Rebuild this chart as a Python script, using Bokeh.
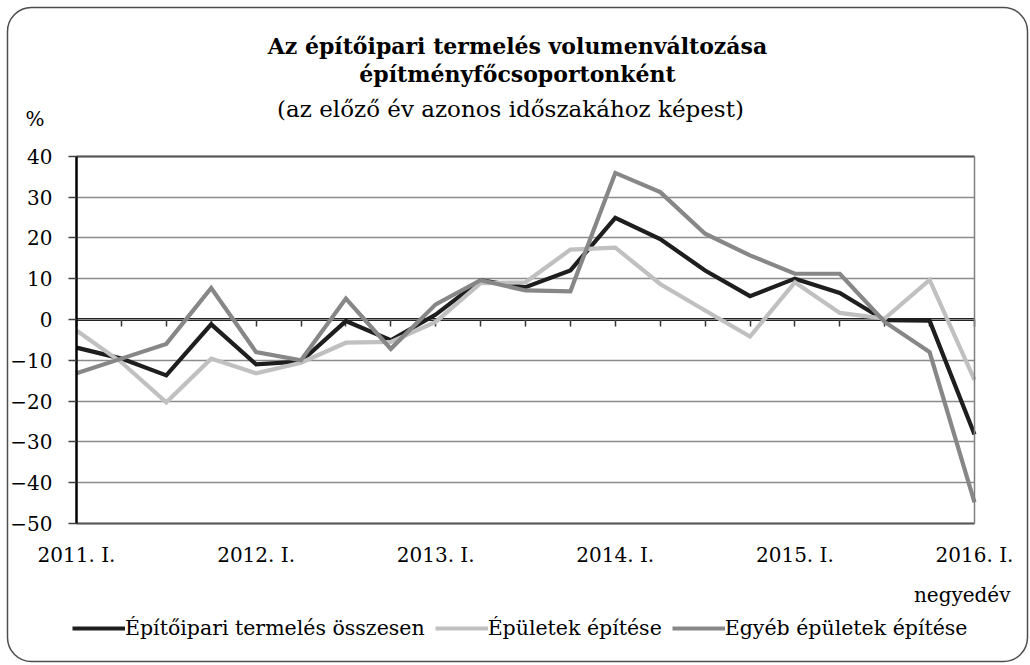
from bokeh.plotting import figure
from bokeh.models import (ColumnDataSource, LinearAxis, FixedTicker, Label,
                          BoxAnnotation, Range1d)
from bokeh.embed import file_html
from bokeh.resources import INLINE

# ---- data -------------------------------------------------------------
quarters = list(range(21))  # 2011 Q1 ... 2016 Q1
year_ticks = [0, 4, 8, 12, 16, 20]
year_labels = ["2011. I.", "2012. I.", "2013. I.", "2014. I.", "2015. I.", "2016. I."]
y_ticks = [-50, -40, -30, -20, -10, 0, 10, 20, 30, 40]

total = [-6.9, -9.6, -13.7, -1.2, -11.0, -10.3, -0.4, -5.1, 1.2, 9.6, 7.9,
         12.0, 24.9, 19.7, 12.0, 5.7, 10.0, 6.5, -0.2, -0.3, -28.2]
epuletek = [-2.7, -10.5, -20.3, -9.6, -13.2, -10.6, -5.7, -5.5, -0.6, 8.9, 9.1,
            17.1, 17.6, 8.7, 2.2, -4.2, 9.1, 1.6, 0.2, 9.7, -14.8]
egyeb = [-13.2, -9.6, -6.0, 7.7, -8.0, -10.0, 5.1, -7.2, 3.7, 9.6, 7.1,
         6.9, 35.9, 31.2, 21.0, 15.7, 11.2, 11.2, -0.6, -8.0, -44.8]

series_names = ["Építőipari termelés összesen", "Épületek építése", "Egyéb épületek építése"]
series_colors = ["#1e1e1e", "#c0c0c0", "#878787"]

title1 = "Az építőipari termelés volumenváltozása"
title2 = "építményfőcsoportonként"
subtitle = "(az előző év azonos időszakához képest)"
unit_text = "%"
x_title = "negyedév"

FONT = "DejaVu Serif"

# ---- layout geometry (pixels) ------------------------------------------
W, H = 1030, 665
PL, PR, PT, PB = 76, 974, 155.7, 523          # plot area edges
X0, X1 = quarters[0], quarters[-1]
Y0, Y1 = y_ticks[0], y_ticks[-1]
kx = (PR - PL) / (X1 - X0)
ky = (PB - PT) / (Y1 - Y0)
x_range = Range1d(X0 - PL / kx, X1 + (W - PR) / kx)
y_range = Range1d(Y0 - (H - PB) / ky, Y1 + PT / ky)

p = figure(width=W, height=H, output_backend="svg", toolbar_location=None,
           x_range=x_range, y_range=y_range, min_border=0,
           min_border_left=0, min_border_right=0, min_border_top=0, min_border_bottom=0)
p.background_fill_color = "white"
p.border_fill_color = "white"
p.outline_line_color = None

xa = p.below[0]   # default x axis -> labelled bottom edge of plot area
ya = p.left[0]    # default y axis -> left edge of plot area

src = ColumnDataSource(dict(x=quarters, total=total, epuletek=epuletek, egyeb=egyeb))
for col, name, color in zip(["total", "epuletek", "egyeb"], series_names, series_colors):
    p.line("x", col, source=src, line_color=color, line_width=4.2,
           line_join="miter", legend_label=name)

# ---- grid -------------------------------------------------------------
p.xgrid.visible = False
yg = p.ygrid[0]
yg.ticker = FixedTicker(ticks=y_ticks)
yg.grid_line_color = "#8c8c8c"
yg.grid_line_width = 1.5
if "cross_bounds" in yg.properties():
    yg.bounds = (Y0, Y1)
    yg.cross_bounds = (X0, X1)
else:
    yg.visible = False
    for t in y_ticks[1:]:
        ga = LinearAxis(fixed_location=t, bounds=(X0, X1), ticker=FixedTicker(ticks=[]))
        ga.axis_line_color = "#8c8c8c"
        ga.axis_line_width = 1.5
        ga.level = "underlay"
        p.add_layout(ga, "below")

# ---- y axis -----------------------------------------------------------
ya.fixed_location = X0
ya.bounds = (Y0, Y1)
ya.ticker = FixedTicker(ticks=y_ticks)
ya.axis_line_color = "black"
ya.axis_line_width = 2.5
ya.major_tick_out = 8
ya.major_tick_in = 0
ya.major_tick_line_color = "#404040"
ya.major_tick_line_width = 1.5
ya.minor_tick_line_color = None
ya.major_label_text_font = FONT
ya.major_label_text_font_size = "20px"
ya.major_label_text_color = "black"
ya.major_label_standoff = 16

# ---- x axis with labels (bottom of plot area) ---------------------------
xa.fixed_location = Y0
xa.bounds = (X0, X1)
xa.ticker = FixedTicker(ticks=year_ticks)
xa.major_label_overrides = {t: l for t, l in zip(year_ticks, year_labels)}
xa.axis_line_color = "#595959"
xa.axis_line_width = 2
xa.major_tick_line_color = None
xa.minor_tick_line_color = None
xa.major_label_text_font = FONT
xa.major_label_text_font_size = "20px"
xa.major_label_text_color = "black"
xa.major_label_standoff = 13

# right edge and top edge of plot area
ra = LinearAxis(fixed_location=X1, bounds=(Y0, Y1), ticker=FixedTicker(ticks=[]))
ra.axis_line_color = "#7f7f7f"
ra.axis_line_width = 1.5
p.add_layout(ra, "right")

ta = LinearAxis(fixed_location=Y1, bounds=(X0, X1), ticker=FixedTicker(ticks=[]))
ta.axis_line_color = "#555555"
ta.axis_line_width = 2
p.add_layout(ta, "above")

# zero line with quarter ticks (minor ticks -> no labels)
za = LinearAxis(fixed_location=0, bounds=(X0, X1),
                ticker=FixedTicker(ticks=[], minor_ticks=quarters))
za.axis_line_color = "black"
za.axis_line_width = 3
za.major_tick_line_color = None
za.minor_tick_out = 7
za.minor_tick_in = 0
za.minor_tick_line_color = "#333333"
za.minor_tick_line_width = 1.5
za.level = "underlay"
p.add_layout(za, "below")

# ---- legend -----------------------------------------------------------
lg = p.legend[0]
lg.location = (72, 25)
lg.orientation = "horizontal"
lg.glyph_width = 53
lg.glyph_height = 20
lg.label_standoff = 0
lg.spacing = 10
lg.padding = 0
lg.margin = 0
lg.border_line_color = None
lg.background_fill_alpha = 0
lg.label_text_font = FONT
lg.label_text_font_size = "20.5px"
lg.label_text_color = "black"

# ---- texts (screen px: x from left, y from bottom) ----------------------
def lab(text, x, base_y, size, style="normal", align="center"):
    p.add_layout(Label(x=x, y=H - base_y, x_units="screen", y_units="screen",
                       text=text, text_font=FONT, text_font_size=size,
                       text_font_style=style, text_align=align,
                       text_baseline="alphabetic", text_color="black"))

lab(title1, 517, 45, "22px", "bold")
lab(title2, 517, 73, "22px", "bold")
lab(subtitle, 510, 108, "23px")
lab(unit_text, 25, 118, "20px", align="left")
lab(x_title, 1010, 594, "20px", align="right")

# rounded outer border
p.add_layout(BoxAnnotation(left=7, right=1027, bottom=H - 661, top=H - 7,
                           left_units="screen", right_units="screen",
                           top_units="screen", bottom_units="screen",
                           fill_alpha=0, line_color="#4d4d4d", line_alpha=1.0,
                           line_width=1.5, border_radius=24, level="overlay"))

open("out.html", "w").write(file_html(p, INLINE))
